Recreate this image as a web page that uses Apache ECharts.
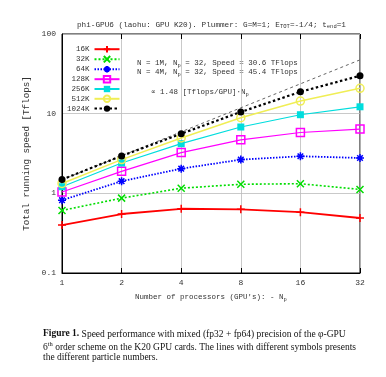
<!DOCTYPE html>
<html>
<head>
<meta charset="utf-8">
<script src="https://cdn.jsdelivr.net/npm/echarts@6/dist/echarts.min.js"></script>
<style>
html, body { margin: 0; padding: 0; background: #fff; }
#container { width: 386px; height: 377px; }
</style>
</head>
<body>
<div id="container"></div>
<script>
// number of GPUs (x axis categories)
var gpus = ['1', '2', '4', '8', '16', '32'];

// total speed [Tflops] per particle number
var names = ['16K', '32K', '64K', '128K', '256K', '512K', '1024K'];
var s16K = [0.40, 0.55, 0.64, 0.63, 0.58, 0.49];
var s32K = [0.61, 0.87, 1.16, 1.30, 1.32, 1.12];
var s64K = [0.82, 1.42, 2.04, 2.65, 2.92, 2.78];
var s128K = [1.04, 1.89, 3.25, 4.70, 5.80, 6.40];
var s256K = [1.21, 2.40, 4.20, 6.80, 9.70, 12.2];
var s512K = [1.33, 2.65, 4.95, 8.90, 14.4, 20.8];
var s1024K = [1.49, 2.95, 5.60, 10.5, 18.8, 29.9];
// ideal scaling 1.48 Tflops per GPU
var ideal = [1.48, 2.96, 5.92, 11.84, 23.68, 47.36];

// y ticks (log axis)
var majorTicks = [0.1, 1, 10, 100];
var minorTicks = [0.2, 0.3, 0.4, 0.5, 0.6, 0.7, 0.8, 0.9,
    2, 3, 4, 5, 6, 7, 8, 9,
    20, 30, 40, 50, 60, 70, 80, 90];

var mono = '"Liberation Mono", "DejaVu Sans Mono", monospace';
var serif = '"Liberation Serif", "DejaVu Serif", serif';

var charts;

function getECharts() {
    if (charts != undefined) {
        return charts;
    }
    charts = echarts.init(document.getElementById('container'), null, {renderer: 'canvas'});
    return charts;
}

// one line series, gnuplot-like point style
function lineSeries(name, data, color, symbol, size, lineType, lineWidth, filled) {
    return {
        name: name,
        type: 'line',
        data: data,
        symbol: symbol,
        symbolSize: size,
        showSymbol: true,
        itemStyle: {
            color: filled ? color : 'rgba(0,0,0,0)',
            borderColor: color,
            borderWidth: filled ? 0 : 1.5
        },
        lineStyle: {color: color, width: lineWidth, type: lineType},
        emphasis: {disabled: true},
        z: 3
    };
}

var plus = 'path://M0,5L10,5M5,0L5,10';
var cross = 'path://M0,0L10,10M10,0L0,10';
var star = 'path://M0,5L10,5M5,0L5,10M1.5,1.5L8.5,8.5M8.5,1.5L1.5,8.5';

var subStyle = {fontSize: 5.5, fontFamily: mono, color: '#333', padding: [5, 0, 0, 0]};

function note(x, y, text) {
    return {
        type: 'text', left: x, top: y, silent: true,
        style: {
            text: text, fontFamily: mono, fontSize: 7.5, fill: '#333',
            rich: {sub: subStyle}
        }
    };
}

function caption(y, text) {
    return {
        type: 'text', left: 43, top: y, silent: true,
        style: {
            text: text, fontFamily: serif, fontSize: 9.5, fill: '#111',
            rich: {
                b: {fontFamily: serif, fontSize: 9.5, fontWeight: 'bold', fill: '#111'},
                sup: {fontFamily: serif, fontSize: 6.5, fill: '#111', padding: [0, 0, 5, 0]}
            }
        }
    };
}

function buildOption() {
    var series = [
        lineSeries(names[0], s16K, '#ff0000', plus, 8, 'solid', 1.8, false),
        lineSeries(names[1], s32K, '#00dd00', cross, 7, [2, 2], 1.6, false),
        lineSeries(names[2], s64K, '#0000ff', star, 8, [1.5, 1.5], 1.8, false),
        lineSeries(names[3], s128K, '#ff00ff', 'rect', 8, 'solid', 1.2, false),
        lineSeries(names[4], s256K, '#00dddd', 'rect', 7, 'solid', 1.2, true),
        lineSeries(names[5], s512K, '#f0ee55', 'circle', 8, 'solid', 1.5, false),
        lineSeries(names[6], s1024K, '#000000', 'circle', 7, [2.5, 2.5], 2.2, true),
        {
            name: 'ideal',
            type: 'line',
            data: ideal,
            showSymbol: false,
            symbol: 'none',
            lineStyle: {color: '#666', width: 1, type: [3, 3]},
            emphasis: {disabled: true},
            z: 2
        }
    ];

    return {
        animation: false,
        backgroundColor: '#fff',
        title: {
            left: 72, top: 14,
            text: 'phi-GPU6 (laohu: GPU K20). Plummer: G=M=1; E{sub|TOT}=-1/4; t{sub|end}=1',
            textStyle: {
                fontFamily: mono, fontSize: 7.7, fontWeight: 'normal', color: '#333',
                rich: {sub: subStyle}
            }
        },
        legend: {
            data: names,
            orient: 'vertical',
            left: 62, top: 40,
            align: 'right',
            itemWidth: 25, itemHeight: 8, itemGap: 1.6,
            textStyle: {fontFamily: mono, fontSize: 7.5, color: '#333'},
            selectedMode: false
        },
        grid: {
            left: 62, right: 26, top: 34, bottom: 104,
            show: true, borderColor: '#000', borderWidth: 1,
            containLabel: false
        },
        xAxis: [{
            type: 'category',
            data: gpus,
            boundaryGap: false,
            name: 'Number of processors (GPU\'s): - N{sub|p}',
            nameLocation: 'middle',
            nameGap: 19,
            nameTextStyle: {fontFamily: mono, fontSize: 7.5, color: '#333', rich: {sub: subStyle}},
            axisLine: {lineStyle: {color: '#000', width: 1}},
            axisTick: {inside: true, length: 5, lineStyle: {color: '#000'}},
            axisLabel: {fontFamily: mono, fontSize: 8, color: '#333', margin: 6},
            splitLine: {show: true, lineStyle: {color: '#bbb', width: 0.8}}
        }, {
            type: 'category',
            data: gpus,
            boundaryGap: false,
            position: 'top',
            axisLine: {show: false},
            axisTick: {inside: true, length: 5, lineStyle: {color: '#000'}},
            axisLabel: {show: false},
            splitLine: {show: false}
        }],
        yAxis: [{
            type: 'log',
            logBase: 10,
            min: 0.1, max: 100,
            position: 'left',
            name: 'Total running speed [Tflops]',
            nameLocation: 'middle',
            nameGap: 27,
            nameTextStyle: {fontFamily: mono, fontSize: 9.2, color: '#333'},
            axisLine: {show: true, lineStyle: {color: '#000', width: 1}},
            axisTick: {inside: true, length: 5, lineStyle: {color: '#000'}},
            axisLabel: {fontFamily: mono, fontSize: 8, color: '#333', margin: 6,
                formatter: function (v) { return String(v); }},
            splitLine: {show: true, lineStyle: {color: '#bbb', width: 0.8}}
        }, {
            type: 'log',
            logBase: 10,
            min: 0.1, max: 100,
            position: 'left',
            axisLine: {show: false},
            axisTick: {inside: true, length: 3, customValues: minorTicks, lineStyle: {color: '#000'}},
            axisLabel: {show: false},
            splitLine: {show: false}
        }, {
            type: 'log',
            logBase: 10,
            min: 0.1, max: 100,
            position: 'right',
            axisLine: {show: false},
            axisTick: {inside: true, length: 3, customValues: majorTicks.concat(minorTicks), lineStyle: {color: '#000'}},
            axisLabel: {show: false},
            splitLine: {show: false}
        }],
        series: series,
        graphic: [
            note(137, 59, 'N = 1M, N{sub|p} = 32, Speed = 30.6 TFlops'),
            note(137, 68, 'N = 4M, N{sub|p} = 32, Speed = 45.4 TFlops'),
            note(151, 88, '\u221d 1.48 [Tflops/GPU]\u00b7N{sub|p}'),
            caption(329, '{b|Figure 1.} Speed performance with mixed (fp32 + fp64) precision of the \u03c6-GPU'),
            caption(341, '6{sup|th} order scheme on the K20 GPU cards. The lines with different symbols presents'),
            caption(352, 'the different particle numbers.')
        ]
    };
}

getECharts().setOption(buildOption(), true);
</script>
</body>
</html>
